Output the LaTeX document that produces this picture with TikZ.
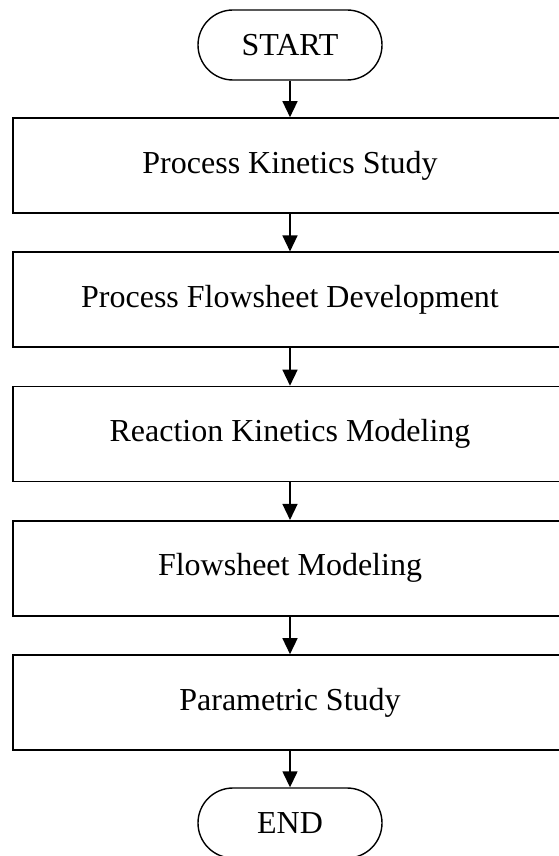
\documentclass[tikz,border=0pt]{standalone}
\usepackage{fontspec}
\setmainfont{Liberation Serif}
\usetikzlibrary{arrows.meta}
\tikzset{
  term/.style={shape=rectangle,draw=black,line width=1.4pt,rounded corners=35pt,
    minimum width=184pt,minimum height=70pt,inner sep=0pt,
    font=\fontsize{32}{38}\selectfont},
  stepbox/.style={shape=rectangle,draw=black,line width=1.6pt,
    minimum width=554pt,minimum height=95pt,inner sep=0pt,
    font=\fontsize{32}{38}\selectfont},
  flow/.style={line width=1.4pt,-{Triangle[width=15pt,length=16pt]}}
}
\begin{document}
\begin{tikzpicture}[x=1pt,y=-1pt]
\useasboundingbox (0,0) rectangle (558,856);
\node[term] (start) at (290,45) {START};
\node[stepbox] (kin) at (290,165.5) {Process Kinetics Study};
\node[stepbox] (sheet) at (290,299.75) {Process Flowsheet Development};
\node[stepbox] (react) at (290,434) {Reaction Kinetics Modeling};
\node[stepbox] (model) at (290,568.25) {Flowsheet Modeling};
\node[stepbox] (param) at (290,702.5) {Parametric Study};
\node[term] (end) at (290,823) {END};
\draw [flow] (start) -- (kin);
\draw [flow] (kin) -- (sheet);
\draw [flow] (sheet) -- (react);
\draw [flow] (react) -- (model);
\draw [flow] (model) -- (param);
\draw [flow] (param) -- (end);
\end{tikzpicture}
\end{document}
